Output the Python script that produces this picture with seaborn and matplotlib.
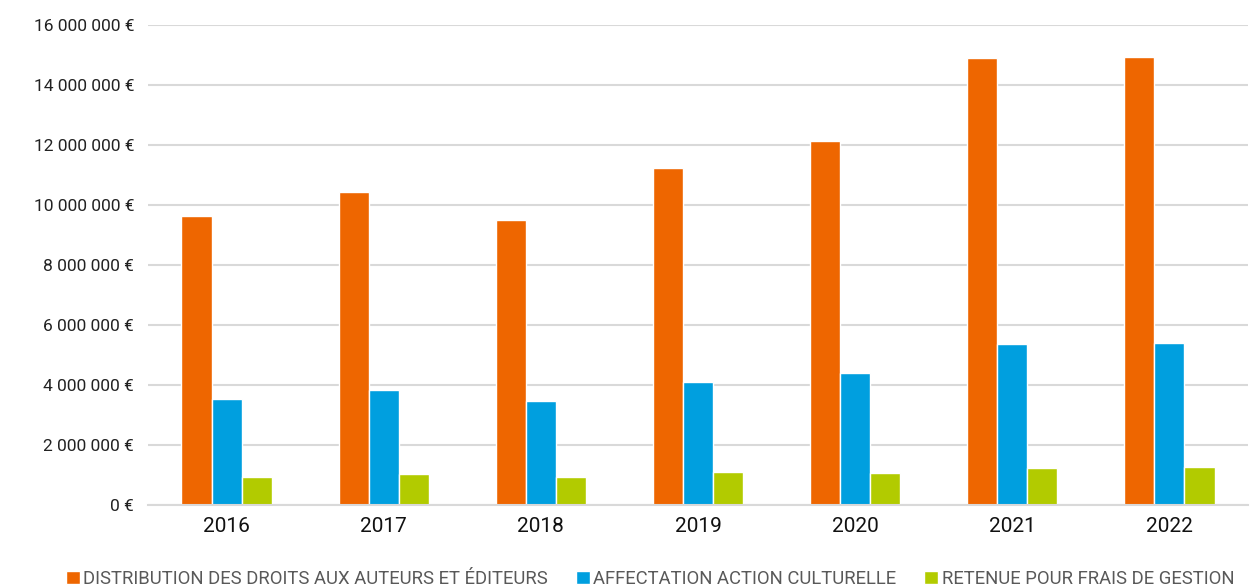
import matplotlib
matplotlib.use('Agg')
import matplotlib.pyplot as plt
import matplotlib.ticker as mticker
import seaborn as sns
import pandas as pd

# Donnees
annees = ['2016', '2017', '2018', '2019', '2020', '2021', '2022']
distribution = [9630000, 10430000, 9500000, 11230000, 12130000, 14890000, 14920000]
affectation = [3520000, 3820000, 3470000, 4100000, 4400000, 5370000, 5390000]
retenue = [930000, 1020000, 930000, 1100000, 1070000, 1230000, 1270000]

series = ['DISTRIBUTION DES DROITS AUX AUTEURS ET ÉDITEURS',
          'AFFECTATION ACTION CULTURELLE',
          'RETENUE POUR FRAIS DE GESTION']
couleurs = ['#EE6600', '#009FDF', '#B2CB00']

df = pd.DataFrame({
    'annee': annees * 3,
    'serie': [series[0]] * 7 + [series[1]] * 7 + [series[2]] * 7,
    'valeur': distribution + affectation + retenue,
})

sns.set_theme(style='white')
plt.rcParams['font.family'] = ['Roboto', 'DejaVu Sans']

fig = plt.figure(figsize=(12.5, 5.87), dpi=100)
ax = fig.add_axes([0.1184, 0.1397, 0.88, 0.8177])

sns.barplot(data=df, x='annee', y='valeur', hue='serie', palette=couleurs,
            width=0.575, gap=0, saturation=1, errorbar=None, ax=ax, legend=True)

ax.set_ylim(0, 16000000)
ax.set_yticks(range(0, 16000001, 2000000))
ax.yaxis.set_major_formatter(mticker.FuncFormatter(
    lambda v, p: f"{v:,.0f}".replace(",", " ") + " €"))
ax.grid(axis='y', color='#d9d9d9', linewidth=1.5)
ax.set_axisbelow(True)
for s in ['top', 'right', 'left']:
    ax.spines[s].set_visible(False)
ax.spines['bottom'].set_color('#d9d9d9')
ax.spines['bottom'].set_linewidth(1.5)
ax.tick_params(axis='y', length=0, labelsize=12.5, labelcolor='#222222', pad=10)
ax.tick_params(axis='x', length=0, labelsize=15, labelcolor='#111111', pad=9)
ax.set_xlabel('')
ax.set_ylabel('')

handles, labels = ax.get_legend_handles_labels()
ax.get_legend().remove()
fig.legend(handles, labels, loc='lower center', bbox_to_anchor=(0.52, -0.03),
           ncol=3, frameon=False, fontsize=13.3, labelcolor='#595959',
           handlelength=0.75, handleheight=0.75, handletextpad=0.2, columnspacing=1.5)

fig.savefig('out.png', dpi=100)
